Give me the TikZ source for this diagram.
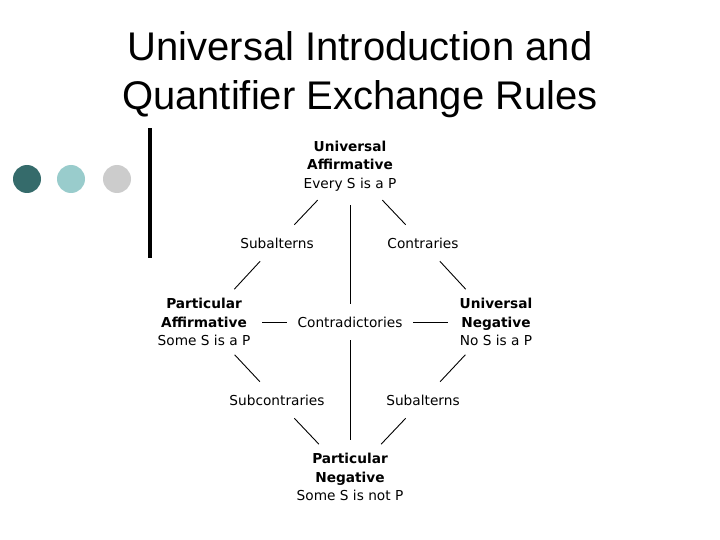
\documentclass[tikz,border=0pt]{standalone}
\usepackage{fontspec}
\newfontfamily\titlefont{Liberation Sans}
\newfontfamily\diagfont{DejaVu Sans}
\definecolor{dotdark}{HTML}{356B6B}
\definecolor{dotlight}{HTML}{99CCCC}
\definecolor{dotgrey}{HTML}{CCCCCC}

\begin{document}
\begin{tikzpicture}[x=1pt, y=-1pt,
  every node/.style={font=\diagfont\fontsize{13.7}{18.5}\selectfont, inner sep=0pt},
  term/.style={align=center, outer xsep=12pt, outer ysep=9pt},
  rel/.style={outer xsep=11pt, outer ysep=13pt},
  link/.style={line width=0.9pt}]
  \useasboundingbox (0,0) rectangle (720,540);
  \node[font=\titlefont\fontsize{40}{49}\selectfont, align=center] (title) at (360,75)
    {Universal Introduction and\\Quantifier Exchange Rules};
  % bullets and bar
  \foreach \cx/\col in {27/dotdark, 71/dotlight, 117/dotgrey}
    \fill[\col] (\cx,179) circle (14pt);
  \fill (148,128) rectangle (152,258);
  % square of opposition
  \node[term] (ua) at (350,166) {\bfseries Universal\\\bfseries Affirmative\\Every S is a P};
  \node[term] (pa) at (204,322) {\bfseries Particular\\\bfseries Affirmative\\Some S is a P};
  \node[term] (un) at (496,322) {\bfseries Universal\\\bfseries Negative\\No S is a P};
  \node[term] (pn) at (350,477) {\bfseries Particular\\\bfseries Negative\\Some S is not P};
  \node[rel] (subA) at (277,243) {Subalterns};
  \node[rel] (contrary) at (423,243) {Contraries};
  \node[rel] (contra) at (350,322) {Contradictories};
  \node[rel] (subcontra) at (277,400) {Subcontraries};
  \node[rel] (subE) at (423,400) {Subalterns};
  \draw[link] (ua) -- (subA);
  \draw[link] (ua) -- (contrary);
  \draw[link] (subA) -- (pa);
  \draw[link] (contrary) -- (un);
  \draw[link] (pa) -- (subcontra);
  \draw[link] (un) -- (subE);
  \draw[link] (subcontra) -- (pn);
  \draw[link] (subE) -- (pn);
  \draw[link, shorten <=5pt] (ua) -- (contra);
  \draw[link, shorten >=4pt] (contra) -- (pn);
  \draw[link] (pa) -- (contra);
  \draw[link] (contra) -- (un);
\end{tikzpicture}
\end{document}
